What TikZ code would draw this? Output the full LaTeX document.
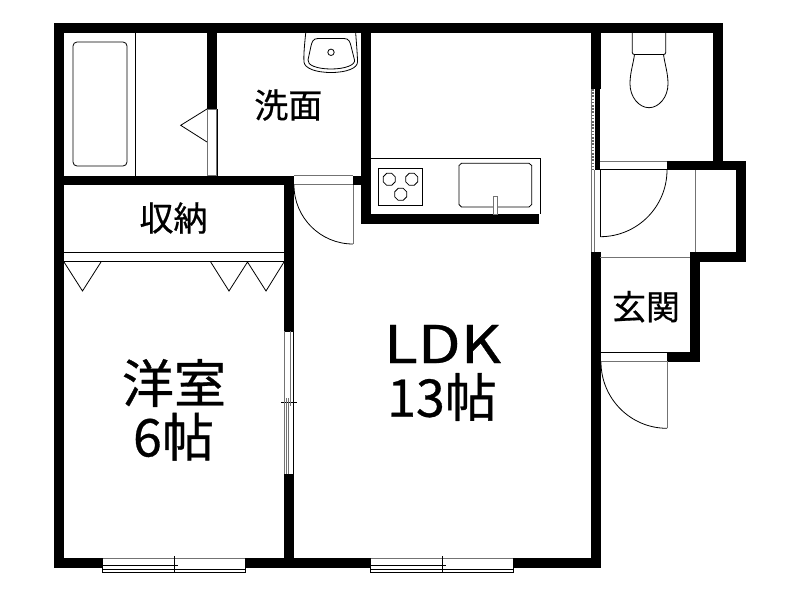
\documentclass[tikz,border=0pt]{standalone}
\usepackage{fontspec}
\newfontfamily\jpfont[FakeBold=0.6]{Noto Sans CJK JP}
\tikzset{
  wall/.style={fill=black},
  thinline/.style={draw=black,line width=0.6pt},
  greyline/.style={draw=black!55,line width=0.75pt},
  smalllabel/.style={inner sep=0.75pt,font=\jpfont\fontsize{25.5pt}{25.5pt}\selectfont},
  biglabel/.style={inner sep=0.75pt,font=\jpfont\fontsize{39pt}{39pt}\selectfont}
}
\begin{document}
\begin{tikzpicture}[x=0.75pt,y=0.75pt,yscale=-1,xscale=1]
\useasboundingbox (0,0) rectangle (800,600);

%Shape: outer walls
\fill [wall] (54,23) rectangle (723,33);
\fill [wall] (54,23) rectangle (64,568);
\fill [wall] (54,558) rectangle (102,568);
\fill [wall] (245.5,558) rectangle (370,568);
\fill [wall] (513.5,558) rectangle (601,568);
\fill [wall] (591,23) rectangle (601,89);
\fill [wall] (594.5,89) rectangle (600,170);
\fill [wall] (591,252) rectangle (600.5,568);
\fill [wall] (713,23) rectangle (723,170);
\fill [wall] (667,161) rectangle (746,170);
\fill [wall] (736,161) rectangle (746,262);
\fill [wall] (690,252) rectangle (746,262);
\fill [wall] (690,252) rectangle (700,362);
\fill [wall] (667,352) rectangle (700,362);
%Shape: inner walls
\fill [wall] (207,23) rectangle (217,109);
\fill [wall] (54,175.5) rectangle (294,185);
\fill [wall] (284,175.5) rectangle (294,331);
\fill [wall] (284,474) rectangle (294,568);
\fill [wall] (353,175.5) rectangle (371,185);
\fill [wall] (361,23) rectangle (371,223.5);
\fill [wall] (361,214) rectangle (539,223.5);

%Shape: bath
\draw [thinline] (135.7,33) -- (135.7,175.5);
\draw [thinline,rounded corners=3] (73,42) rectangle (127,166);
\draw [greyline] (207.5,109) rectangle (216.5,175.5);
\draw [thinline] (217,109) -- (217,175.5);
\draw [thinline] (207,109) -- (180.7,125.3) -- (207,142);

%Shape: basin
\draw [thinline] (305.7,33) .. controls (304.5,45) and (303.5,55) .. (304,62) .. controls (304.5,68) and (315,72.5) .. (331,72.5) .. controls (347,72.5) and (357.5,68) .. (357.5,62) .. controls (357.5,55) and (356.5,45) .. (355.7,33);
\draw [thinline] (318,38.5) -- (344,38.5) .. controls (349,38.5) and (350,42) .. (351,46) -- (354.5,60) .. controls (355.5,65) and (345,69) .. (331,69) .. controls (317,69) and (307,65) .. (308,60) -- (311,46) .. controls (312,42) and (313,38.5) .. (318,38.5) -- cycle;
\draw [thinline] (331,52.3) circle (3.2);

%Shape: washroom door
\draw [greyline] (294,175.5) -- (353,175.5);
\draw [greyline] (294,184.5) -- (353,184.5);
\draw [greyline] (353,185) -- (353,244);
\draw [thinline] (294,185) .. controls (294,217.6) and (320.4,244) .. (353,244);

%Shape: closet
\draw [thinline] (64,252.5) -- (284,252.5);
\draw [thinline] (64,261.7) -- (284,261.7);
\draw [thinline] (64,262) -- (82.5,291) -- (101,262);
\draw [thinline] (210.7,262) -- (229,291) -- (247.5,262) -- (266,291) -- (284,262);

%Shape: kitchen counter
\draw [thinline] (371,158) -- (540.7,158) -- (540.7,214);
\draw [thinline] (378.3,168.3) rectangle (422.7,205.3);
\draw [thinline] (459,165.5) -- (461.5,163.3) -- (529,163.3) -- (531.7,165.5) -- (531.7,204.5) -- (529,207) -- (461.5,207) -- (459,204.5) -- cycle;
\draw [greyline,fill=white] (493.7,196.7) rectangle (497,214);
%Shape: burners
\foreach \cx/\cy in {389.2/179.3,411.7/179.3,400.7/194.3}
  \draw [thinline] (\cx-2.5,\cy-6) -- (\cx+2.5,\cy-6) -- (\cx+6,\cy-2.5) -- (\cx+6,\cy+2.5) -- (\cx+2.5,\cy+6) -- (\cx-2.5,\cy+6) -- (\cx-6,\cy+2.5) -- (\cx-6,\cy-2.5) -- cycle;

%Shape: toilet
\draw [thinline,rounded corners=1.5] (632.3,33) -- (632.3,54.5) -- (665.7,54.5) -- (665.7,33);
\draw [thinline] (634.5,54.5) .. controls (633,65) and (630,73) .. (630,84) .. controls (630,97) and (639,107.7) .. (649,107.7) .. controls (659,107.7) and (668,97) .. (668,84) .. controls (668,73) and (665,65) .. (663.5,54.5);

%Shape: toilet door
\draw [greyline] (600,161) -- (667,161);
\draw [thinline,line width=0.8pt] (600,169.7) -- (667,169.7);
\draw [thinline,line width=0.8pt] (600.3,170) -- (600.3,236.7);
\draw [thinline] (667,170) .. controls (667,207) and (637,236.7) .. (600.3,236.7);

%Shape: hall steps and sliding door
\draw [greyline] (695,170) -- (695,252);
\draw [greyline] (600,257) -- (690,257);
\draw [greyline] (591.3,89) -- (591.3,252);
\draw [greyline] (594.5,170) -- (594.5,252);
\draw [dashed,black!60,line width=1pt,dash pattern=on 1.2pt off 1.2pt] (593,89) -- (593,170);

%Shape: entrance door
\draw [thinline,line width=0.8pt] (600.5,352.5) -- (667,352.5);
\draw [greyline] (600.5,361) -- (667,361);
\draw [greyline] (667,361) -- (667,428.3);
\draw [thinline] (601,362) .. controls (601,398.5) and (630.5,428.3) .. (667,428.3);

%Shape: room window
\draw [thinline] (284.5,331) -- (294,331);
\draw [thinline] (284.5,474) -- (294,474);
\draw [thinline] (281,402.3) -- (296.7,402.3);
\draw [greyline] (284.5,331) -- (284.5,474);
\draw [thinline] (293.5,331) -- (293.5,474);
\draw [greyline] (290.7,331) -- (290.7,406);
\draw [greyline] (286.7,398) -- (286.7,474);
\draw [greyline] (288.7,398) -- (288.7,474);

%Shape: south windows
\foreach \wx in {102,370}{
  \draw [greyline] (\wx,558) -- (\wx+143.7,558);
  \draw [thinline] (\wx,558) -- (\wx,573);
  \draw [thinline] (\wx+143.7,558) -- (\wx+143.7,573);
  \draw [thinline] (\wx,565.7) -- (\wx+75.5,565.7);
  \draw [thinline] (\wx+68,569) -- (\wx+143.7,569);
  \draw [thinline] (\wx,569.7) -- (\wx+72,569.7);
  \draw [thinline] (\wx,572.7) -- (\wx+143.7,572.7);
  \draw [thinline] (\wx+72,556) -- (\wx+72,573);
}

% Text Node
\draw (288.3,105) node (senmen) [smalllabel] {洗面};
% Text Node
\draw (173.5,218) node (shuno) [smalllabel] {収納};
% Text Node
\draw (646,306.7) node (genkan) [smalllabel] {玄関};
% Text Node
\draw (174,383) node (yoshitsu) [biglabel] {洋室};
% Text Node
\draw (173.5,436.7) node (rokujo) [biglabel] {6帖};
% Text Node
\draw (442.5,344) node (ldk) [biglabel,xscale=1.2] {LDK};
% Text Node
\draw (442,397) node (jusanjo) [biglabel] {13帖};

\end{tikzpicture}
\end{document}
